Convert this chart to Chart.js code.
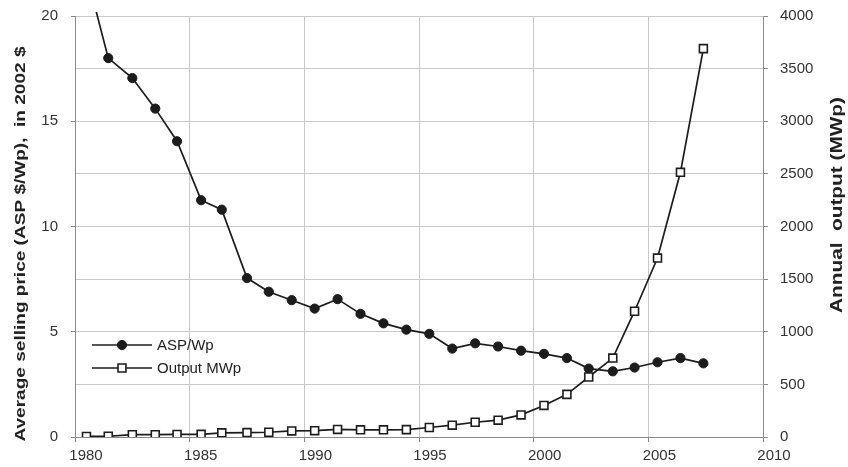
<!DOCTYPE html>
<html><head><meta charset="utf-8">
<script src="https://cdn.jsdelivr.net/npm/chart.js@4.4.1/dist/chart.umd.min.js"></script>
<style>html,body{margin:0;padding:0;background:#fff}canvas{display:block}</style>
</head><body>
<canvas id="c" width="848" height="467"></canvas>
<script>
// x positions of the yearly markers
const xYears = [1980.5, 1981.45, 1982.5, 1983.5, 1984.45, 1985.5, 1986.4, 1987.5, 1988.45, 1989.45,
  1990.45, 1991.45, 1992.45, 1993.45, 1994.45, 1995.45, 1996.45, 1997.45, 1998.45, 1999.45,
  2000.45, 2001.45, 2002.4, 2003.45, 2004.4, 2005.4, 2006.4, 2007.4];
// Average selling price, 2002 $/Wp (left axis)
const aspValues = [22, 18.0, 17.05, 15.6, 14.05, 11.25, 10.8, 7.55, 6.9, 6.5,
  6.1, 6.55, 5.85, 5.4, 5.1, 4.9, 4.2, 4.45, 4.3, 4.1,
  3.95, 3.75, 3.25, 3.12, 3.3, 3.55, 3.75, 3.5];
// Annual output, MWp (right axis)
const outputValues = [5, 7, 22, 22, 24, 25, 40, 42, 45, 58,
  60, 72, 68, 68, 70, 90, 112, 140, 160, 210,
  300, 405, 570, 750, 1195, 1700, 2515, 3690];
const seriesNames = ['ASP/Wp', 'Output MWp'];
const leftTitle = 'Average selling price (ASP $/Wp),  in 2002 $';
const rightTitle = 'Annual  output (MWp)';

const FONT = '"Liberation Sans", Arial, sans-serif';
const INK = '#1c1c1c';
const GRID = '#c8c8c8';
const AXIS = '#8a8a8a';
const TXT = '#333333';

function drawVert(ctx, text, x, y, font, stretch) {
  ctx.save();
  ctx.translate(x, y);
  ctx.rotate(-Math.PI / 2);
  ctx.scale(stretch, 1);
  ctx.font = font;
  ctx.textAlign = 'center';
  ctx.textBaseline = 'middle';
  ctx.fillStyle = '#222';
  ctx.fillText(text, 0, 0);
  ctx.restore();
}

const decor = {
  id: 'decor',
  afterDraw(chart) {
    const ctx = chart.ctx;
    drawVert(ctx, leftTitle, 21, 244, 'bold 14px ' + FONT, 1.36);
    drawVert(ctx, rightTitle, 838, 205, 'bold 16px ' + FONT, 1.3);
    // legend inside plot
    const items = chart.data.datasets;
    const rows = [345, 368];
    ctx.save();
    items.slice().sort((a, b) => a.legendIndex - b.legendIndex).forEach((ds, i) => {
      const y = rows[i];
      ctx.strokeStyle = INK; ctx.lineWidth = 1.7;
      ctx.beginPath(); ctx.moveTo(92, y); ctx.lineTo(152, y); ctx.stroke();
      ctx.fillStyle = ds.pointBackgroundColor; ctx.strokeStyle = INK; ctx.lineWidth = ds.pointBorderWidth;
      ctx.beginPath();
      if (ds.pointStyle === 'circle') { ctx.arc(122, y, ds.pointRadius, 0, Math.PI * 2); }
      else { const s = ds.pointRadius * Math.SQRT1_2; ctx.rect(122 - s, y - s, 2 * s, 2 * s); }
      ctx.fill(); ctx.stroke();
      ctx.fillStyle = '#222'; ctx.font = '15px ' + FONT;
      ctx.textAlign = 'left'; ctx.textBaseline = 'middle';
      ctx.fillText(ds.label, 157, y + 1);
    });
    ctx.restore();
  }
};

new Chart(document.getElementById('c'), {
  type: 'line',
  data: {
    datasets: [
      {
        label: seriesNames[1], legendIndex: 1, order: 0,
        data: xYears.map((x, i) => ({ x, y: outputValues[i] })),
        yAxisID: 'y1', borderColor: INK, borderWidth: 1.7,
        pointStyle: 'rect', pointRadius: 5.6, pointBorderWidth: 1.6,
        pointBackgroundColor: '#ffffff', pointBorderColor: INK, tension: 0
      },
      {
        label: seriesNames[0], legendIndex: 0, order: 1,
        data: xYears.map((x, i) => ({ x, y: aspValues[i] })),
        yAxisID: 'y', borderColor: INK, borderWidth: 1.7,
        pointStyle: 'circle', pointRadius: 4.6, pointBorderWidth: 1,
        pointBackgroundColor: INK, pointBorderColor: INK, tension: 0,
        clip: { left: 0, top: 4, right: 0, bottom: 0 }
      }
    ]
  },
  options: {
    responsive: false, animation: false,
    layout: { padding: { top: 16, left: 0, right: 0, bottom: 0 } },
    plugins: { legend: { display: false }, tooltip: { enabled: false } },
    scales: {
      x: {
        type: 'linear', min: 1980, max: 2010,
        afterFit(s) { s.height = 30; s.paddingLeft = 0; s.paddingRight = 0; },
        border: { color: AXIS, width: 1 },
        grid: { color: GRID, lineWidth: 1, tickLength: 5, tickColor: AXIS },
        ticks: { stepSize: 5, color: TXT, font: { family: FONT, size: 15 }, padding: 5, labelOffset: 11, maxRotation: 0,
          callback: v => String(v) }
      },
      y: {
        position: 'left', min: 0, max: 20,
        afterFit(s) { s.width = 75; s.paddingTop = 0; s.paddingBottom = 0; },
        border: { color: AXIS, width: 1 },
        grid: { drawOnChartArea: false, tickLength: 4, tickColor: AXIS },
        ticks: { stepSize: 5, color: TXT, font: { family: FONT, size: 15 }, padding: 13, callback: v => String(v) }
      },
      y1: {
        position: 'right', min: 0, max: 4000,
        afterFit(s) { s.width = 85; s.paddingTop = 0; s.paddingBottom = 0; },
        border: { color: AXIS, width: 1 },
        grid: { color: GRID, lineWidth: 1, tickLength: 5, tickColor: AXIS },
        ticks: { stepSize: 500, color: TXT, font: { family: FONT, size: 15 }, padding: 12, callback: v => String(v) }
      }
    }
  },
  plugins: [decor]
});
</script>
</body></html>
